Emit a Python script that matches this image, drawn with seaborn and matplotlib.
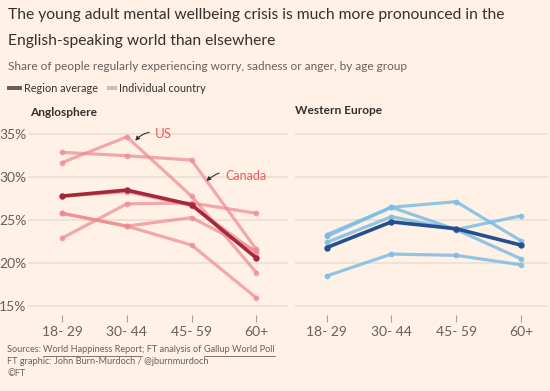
import matplotlib
matplotlib.use("Agg")
import matplotlib.pyplot as plt
import seaborn as sns
import pandas as pd

# ---------------- data ----------------
age_groups = ["18- 29", "30- 44", "45- 59", "60+"]

anglo_countries = {
    "Canada":    [32.9, 32.5, 32.0, 21.6],
    "US":        [31.7, 34.7, 27.8, 18.9],
    "Country 3": [27.8, 28.3, 26.7, 21.2],
    "Country 4": [22.9, 26.9, 27.0, 25.8],
    "Country 5": [25.8, 24.3, 25.3, 21.4],
    "Country 6": [25.8, 24.3, 22.1, 15.95],
}
anglo_average = [27.8, 28.5, 26.8, 20.6]

we_countries = {
    "Country A": [23.3, 26.5, 27.15, 22.6],
    "Country B": [23.1, 26.5, 23.9, 20.5],
    "Country C": [22.4, 25.4, 23.9, 25.5],
    "Country D": [18.5, 21.05, 20.9, 19.8],
}
we_average = [21.8, 24.8, 24.0, 22.1]

y_ticks = [15, 20, 25, 30, 35]
y_tick_labels = ["15%", "20%", "25%", "30%", "35%"]

# ---------------- style ----------------
BG = "#FFF1E5"
TXT = "#33302E"
SUB = "#66605C"
GRID = "#E9DDD2"

sns.set_theme(style="white")
plt.rcParams["font.family"] = ["Lato", "DejaVu Sans"]
plt.rcParams["figure.facecolor"] = BG
plt.rcParams["axes.facecolor"] = BG
plt.rcParams["savefig.facecolor"] = BG

W, H = 550, 391
fig = plt.figure(figsize=(W / 100, H / 100), dpi=100)


def fx(x):
    return x / W


def fy(y):
    return 1 - y / H


def long_df(countries):
    rows = []
    for name, vals in countries.items():
        for a, v in zip(age_groups, vals):
            rows.append({"country": name, "age": a, "value": v})
    return pd.DataFrame(rows)


def avg_df(vals):
    return pd.DataFrame({"age": age_groups, "value": vals})


ax_bottom, ax_top = 315, 130
axL = fig.add_axes([fx(28), fy(ax_bottom), fx(288) - fx(28), (ax_bottom - ax_top) / H])
axR = fig.add_axes([fx(295), fy(ax_bottom), fx(548) - fx(295), (ax_bottom - ax_top) / H])


def draw_panel(ax, countries, avg, c_color, a_color, c_alpha, xlim, show_y):
    df = long_df(countries)
    sns.lineplot(data=df, x="age", y="value", units="country", estimator=None,
                 color=c_color, alpha=c_alpha, lw=2.3, marker="o", markersize=4.2,
                 markeredgewidth=0, sort=False, ax=ax, legend=False, zorder=3)
    sns.lineplot(data=avg_df(avg), x="age", y="value", color=a_color, lw=2.6,
                 marker="o", markersize=4.6, markeredgewidth=0, sort=False, ax=ax,
                 legend=False, zorder=4)
    ax.set_xlim(*xlim)
    ax.set_ylim(13.95, 35.5)
    ax.set_yticks(y_ticks)
    for t in y_ticks:
        ax.axhline(t, color=GRID, lw=1.1, zorder=1)
    if show_y:
        ax.set_yticklabels(y_tick_labels)
    else:
        ax.set_yticklabels([])
    ax.tick_params(axis="y", length=0, pad=1, labelsize=10, labelcolor=SUB)
    ax.set_xticks(range(len(age_groups)))
    ax.set_xticklabels(age_groups)
    ax.tick_params(axis="x", length=5, width=0.8, color="#A8A09A", direction="out",
                   pad=3, labelsize=10, labelcolor=SUB, bottom=True)
    ax.set_xlabel("")
    ax.set_ylabel("")
    for s in ax.spines.values():
        s.set_visible(False)
    ax.grid(False)


draw_panel(axL, anglo_countries, anglo_average, "#EE8890", "#A3293A", 0.7,
           (-0.526, 3.49), True)
draw_panel(axR, we_countries, we_average, "#7DBDE6", "#264F8E", 0.85,
           (-0.49, 3.42), False)

# annotations
RED = "#EB5A62"
axL.annotate("US", xy=(1.13, 34.25), xytext=(1.44, 35.0), color=RED, fontsize=9.5,
             va="center", ha="left",
             arrowprops=dict(arrowstyle="-|>", color=TXT, lw=0.8, mutation_scale=6,
                             connectionstyle="arc3,rad=0.35", shrinkA=2, shrinkB=0))
axL.annotate("Canada", xy=(2.23, 29.55), xytext=(2.52, 30.15), color=RED, fontsize=9.0,
             va="center", ha="left",
             arrowprops=dict(arrowstyle="-|>", color=TXT, lw=0.8, mutation_scale=6,
                             connectionstyle="arc3,rad=0.35", shrinkA=2, shrinkB=0))

# titles
fig.text(fx(8), fy(15), "The young adult mental wellbeing crisis is much more pronounced in the",
         fontsize=11.25, color=TXT, va="center", ha="left")
fig.text(fx(8), fy(41), "English-speaking world than elsewhere",
         fontsize=11.25, color=TXT, va="center", ha="left")
fig.text(fx(8), fy(66), "Share of people regularly experiencing worry, sadness or anger, by age group",
         fontsize=8.45, color=SUB, va="center", ha="left")

# legend
fig.patches.append(plt.Rectangle((fx(7), fy(89.5)), fx(15), 3 / H, transform=fig.transFigure,
                                 color="#66605C", lw=0))
fig.text(fx(24), fy(88), "Region average", fontsize=7.8, color=TXT, va="center", ha="left")
fig.patches.append(plt.Rectangle((fx(107), fy(89.5)), fx(10), 3 / H, transform=fig.transFigure,
                                 color="#C9C0B8", lw=0))
fig.text(fx(119), fy(88), "Individual country", fontsize=7.8, color=TXT, va="center", ha="left")

# panel titles
fig.text(fx(30), fy(112), "Anglosphere", fontsize=8.6, color=TXT, weight="bold",
         va="center", ha="left")
fig.text(fx(295), fy(111), "Western Europe", fontsize=8.6, color=TXT, weight="bold",
         va="center", ha="left")

# sources with underlined parts
src_parts = [("Sources: ", False), ("World Happiness Report", True),
             ("; FT analysis of ", False), ("Gallup World Poll", True)]
renderer = fig.canvas.get_renderer()
xpos = fx(7)
for txt, ul in src_parts:
    t = fig.text(xpos, fy(350), txt, fontsize=6.6, color=SUB, va="center", ha="left")
    bb = t.get_window_extent(renderer=renderer)
    x0, x1 = bb.x0 / W, bb.x1 / W
    if ul:
        fig.lines.append(plt.Line2D([x0, x1], [fy(355.5), fy(355.5)], transform=fig.transFigure,
                                    color=SUB, lw=0.6))
    xpos = x1
fig.text(fx(7), fy(362), "FT graphic: John Burn-Murdoch / @jburnmurdoch", fontsize=6.6,
         color=SUB, va="center", ha="left")
fig.text(fx(7), fy(374), "©FT", fontsize=6.6, color=SUB, va="center", ha="left")

fig.savefig("out.png", dpi=100, facecolor=BG)
